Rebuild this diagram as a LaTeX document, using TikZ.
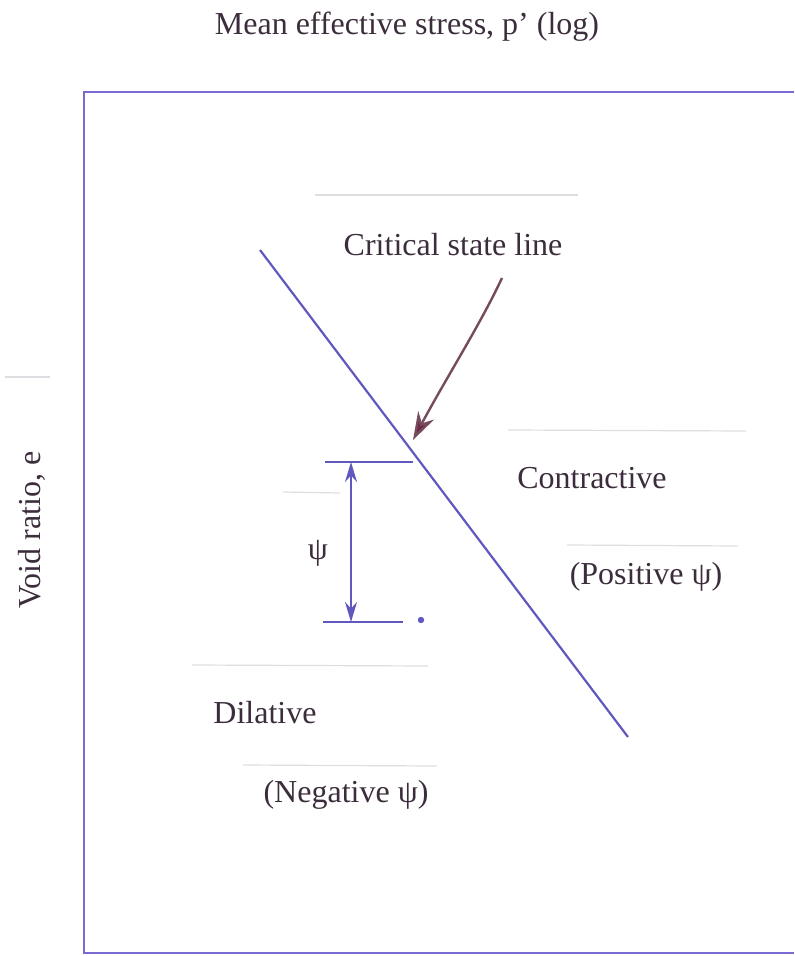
\documentclass[tikz,border=0pt]{standalone}
\usepackage{fontspec}
\setmainfont{Liberation Serif}
\usetikzlibrary{arrows.meta}
\definecolor{lineblue}{RGB}{96,88,190}
\definecolor{boxblue}{RGB}{120,108,210}
\definecolor{txt}{RGB}{60,45,60}
\definecolor{arrowred}{RGB}{110,40,70}
\definecolor{faint}{RGB}{222,222,226}
\tikzset{
  lbl/.style={font=\fontsize{16}{18}\selectfont, text=txt, inner sep=0pt},
  csl/.style={draw=lineblue, line width=1.1pt},
  dimline/.style={draw=lineblue, line width=1.1pt},
  ghost/.style={draw=faint, line width=0.6pt},
}
\begin{document}
\begin{tikzpicture}[x=0.5pt,y=-0.5pt]
\useasboundingbox (0,0) rectangle (794,956);
% frame
\draw[draw=boxblue, line width=1.3pt] (794,92) -- (84,92) -- (84,953) -- (794,953);
% faint traces
\draw[ghost] (315,195) -- (578,195);
\draw[ghost] (508,430) -- (746,431);
\draw[ghost] (283,492) -- (340,493);
\draw[ghost] (567,545) -- (738,546);
\draw[ghost] (192,665) -- (428,666);
\draw[ghost] (243,765) -- (437,766);
\draw[ghost] (5,377) -- (50,377);
% labels
\node[lbl] (xlab) at (407,27) {Mean effective stress, p’ (log)};
\node[lbl, rotate=90] (ylab) at (32,530) {Void ratio, e};
\node[lbl] (csllab) at (453,245) {Critical state line};
\node[lbl] (contr) at (592,478) {Contractive};
\node[lbl] (pos) at (646,577) {(Positive ψ)};
\node[lbl] (dil) at (265,713) {Dilative};
\node[lbl] (neg) at (346,795) {(Negative ψ)};
\node[lbl] (psi) at (318,553) {ψ};
% critical state line
\coordinate (cslA) at (260,250);
\coordinate (cslB) at (628,737);
\draw[csl] (cslA) -- (cslB);
% pointer arrow
\coordinate (arrS) at (502,278);
\coordinate (arrE) at (413,440);
\draw[draw=arrowred!60!gray, line width=1.2pt, -{Stealth[length=14pt,width=9pt,fill=arrowred]}]
  (arrS) .. controls (480,325) and (445,380) .. (arrE);
% psi dimension
\coordinate (t1) at (325,462);
\coordinate (t2) at (413,462);
\coordinate (b1) at (323,622);
\coordinate (b2) at (403,622);
\coordinate (vt) at (351,462);
\coordinate (vb) at (351,622);
\draw[dimline] (t1) -- (t2);
\draw[dimline] (b1) -- (b2);
\draw[dimline, {Stealth[length=10pt,width=6pt]}-{Stealth[length=10pt,width=6pt]}] (vt) -- (vb);
\fill[lineblue] (421,620) circle (3.2);
\end{tikzpicture}
\end{document}
